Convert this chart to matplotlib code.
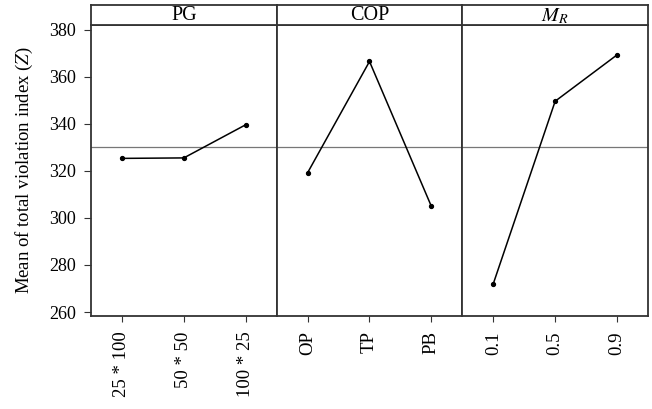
import matplotlib
matplotlib.use('Agg')
import matplotlib.pyplot as plt

plt.rcParams['font.family'] = ['Liberation Serif', 'DejaVu Serif']
plt.rcParams['mathtext.fontset'] = 'stix'

# main effects (means of Z)
factors = ['PG', 'COP', r'$M_R$']
pg_levels = ['25 * 100', '50 * 50', '100 * 25']
pg_means = [325.3, 325.5, 339.6]
cop_levels = ['OP', 'TP', 'PB']
cop_means = [319.2, 366.5, 304.9]
mr_levels = ['0.1', '0.5', '0.9']
mr_means = [272.0, 349.6, 369.3]
grand_mean = 330.2

levels = [pg_levels, cop_levels, mr_levels]
means = [pg_means, cop_means, mr_means]

W, H = 652, 409
fig = plt.figure(figsize=(W / 100, H / 100), dpi=100)

left, right = 91, 648
top_strip, top_ax, bottom = 5, 25, 316
pw = (right - left) / 3
frame_col = '#333333'

for i in range(3):
    x0 = left + i * pw
    ax = fig.add_axes([x0 / W, (H - bottom) / H, pw / W, (bottom - top_ax) / H])
    xs = list(range(len(levels[i])))
    ax.axhline(grand_mean, color='#777777', lw=0.9, zorder=1)
    ax.plot(xs, means[i], color='black', lw=1.1, marker='o', markersize=2.8, zorder=3)
    ax.set_xlim(-0.5, 2.5)
    ax.set_ylim(258.3, 382)
    ax.set_xticks(xs)
    ax.set_xticklabels(levels[i], rotation=90, fontsize=13.5)
    ax.tick_params(axis='x', direction='out', length=4, color=frame_col, pad=7)
    if i == 0:
        ax.set_yticks([260, 280, 300, 320, 340, 360, 380])
        ax.tick_params(axis='y', direction='out', length=5, color=frame_col,
                       labelsize=13, pad=6)
        ax.set_ylabel('Mean of total violation index ($Z$)', fontsize=13.5, labelpad=10)
    else:
        ax.set_yticks([])
    for s in ax.spines.values():
        s.set_color(frame_col)
        s.set_linewidth(1.3)

    # header strip
    sax = fig.add_axes([x0 / W, (H - top_ax) / H, pw / W, (top_ax - top_strip) / H])
    sax.set_xticks([])
    sax.set_yticks([])
    for s in sax.spines.values():
        s.set_color(frame_col)
        s.set_linewidth(1.3)
    sax.text(0.5, 0.45, factors[i], ha='center', va='center', fontsize=14.5,
             transform=sax.transAxes)

fig.savefig('out.png', dpi=100)
